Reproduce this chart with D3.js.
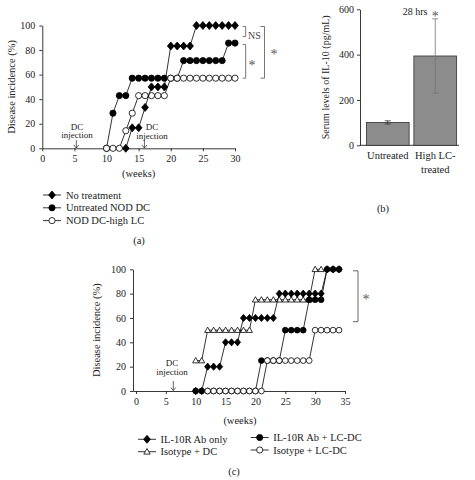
<!DOCTYPE html>
<html><head><meta charset="utf-8">
<script src="https://cdn.jsdelivr.net/npm/d3@7"></script>
<style>
body{margin:0;background:#fff}
svg{display:block}
text{font-family:'Liberation Serif','Times New Roman',serif;fill:#222}
</style></head>
<body><svg id="c" width="475" height="480"></svg>
<script>
// ---------- DATA ----------
// Panel (a): disease incidence (%) vs weeks
const aXTicks = [0,5,10,15,20,25,30];
const aYTicks = [0,20,40,60,80,100];
const aNoTreatWeeks = [13,14,15,16,17,18,19,20,21,22,23,24,25,26,27,28,29,30];
const aNoTreatVals  = [0,16.7,16.7,33.3,50,50,50,83.3,83.3,83.3,83.3,100,100,100,100,100,100,100];
const aUntreatedWeeks = [10,11,12,13,14,15,16,17,18,19,20,21,22,23,24,25,26,27,28,29,30];
const aUntreatedVals  = [0,28.6,42.9,42.9,57.1,57.1,57.1,57.1,57.1,57.1,57.1,57.1,71.4,71.4,71.4,71.4,71.4,71.4,71.4,85.7,85.7];
const aHighLCWeeks = [10,11,12,13,14,15,16,17,18,19,20,21,22,23,24,25,26,27,28,29,30];
const aHighLCVals  = [0,0,0,14.3,28.6,42.9,42.9,42.9,42.9,42.9,57.1,57.1,57.1,57.1,57.1,57.1,57.1,57.1,57.1,57.1,57.1];
const aLegend = ["No treatment","Untreated NOD DC","NOD DC-high LC"];
const aInjectionWeeks = [5.3, 15.9];

// Panel (b): serum IL-10
const bCategories = ["Untreated","High LC-treated"];
const bCategoryLines = [["Untreated"],["High LC-","treated"]];
const bValues = [101, 394];
const bErrors = [7, 164];
const bYTicks = [0,200,400,600];

// Panel (c)
const cXTicks = [0,5,10,15,20,25,30,35];
const cYTicks = [0,20,40,60,80,100];
const cAbOnlyWeeks = [10,11,12,13,14,15,16,17,18,19,20,21,22,23,24,25,26,27,28,29,30,31,32,33,34];
const cAbOnlyVals  = [0,0,20,20,20,40,40,40,60,60,60,60,60,60,80,80,80,80,80,80,80,80,100,100,100];
const cIsoDCWeeks = [10,11,12,13,14,15,16,17,18,19,20,21,22,23,24,25,26,27,28,29,30,31];
const cIsoDCVals  = [25,25,50,50,50,50,50,50,50,50,75,75,75,75,75,75,75,75,75,75,100,100];
const cAbLCWeeks = [10,11,12,13,14,15,16,17,18,19,20,21,22,23,24,25,26,27,28,29,30,31,32,33,34];
const cAbLCVals  = [0,0,0,0,0,0,0,0,0,0,0,25,25,25,25,50,50,50,50,75,75,75,100,100,100];
const cIsoLCWeeks = [12,13,14,15,16,17,18,19,20,21,22,23,24,25,26,27,28,29,30,31,32,33,34];
const cIsoLCVals  = [0,0,0,0,0,0,0,0,0,0,25,25,25,25,25,25,25,25,50,50,50,50,50];
const cLegend = ["IL-10R Ab only","Isotype + DC","IL-10R Ab + LC-DC","Isotype + LC-DC"];
const cInjectionWeek = 6.25;

// ---------- DRAW ----------
const svg = d3.select("#c");
const INK = "#222";
const zip = (w,v) => w.map((d,i)=>({w:d,v:v[i]}));

function shapePath(type, s){
  if(type==="diamond") return `M0,${-4*s}L${3.4*s},0L0,${4*s}L${-3.4*s},0Z`;
  if(type==="triangle") return `M0,${-3.2*s}L${3.2*s},${2.4*s}L${-3.2*s},${2.4*s}Z`;
  return null;
}
function drawMarker(g, type, x, y, s){
  if(type==="diamond" || type==="triangle"){
    g.append("path").attr("d", shapePath(type,s)).attr("transform",`translate(${x},${y})`)
      .attr("fill", type==="diamond" ? "#000" : "#fff").attr("stroke","#000").attr("stroke-width",0.8);
  } else {
    g.append("circle").attr("cx",x).attr("cy",y).attr("r",3.1*s)
      .attr("fill", type==="filled" ? "#000" : "#fff").attr("stroke","#000").attr("stroke-width",0.8);
  }
}
function drawSeries(g, data, x, y, type, s){
  const line = d3.line().x(d=>x(d.w)).y(d=>y(d.v));
  g.append("path").datum(data).attr("d",line).attr("fill","none").attr("stroke","#000").attr("stroke-width",0.8);
  data.forEach(d=>drawMarker(g,type,x(d.w),y(d.v),s));
}
function styleAxis(g){
  g.selectAll(".domain,.tick line").attr("stroke",INK).attr("stroke-width",0.9);
  g.selectAll(".tick text").style("font-family","'Liberation Serif','Times New Roman',serif").style("font-size","10px").attr("fill",INK);
}
function injection(g, x, yTextTop, arrowTop, arrowBottom, textX){
  g.append("text").attr("x",textX).attr("y",yTextTop).attr("text-anchor","middle").style("font-size","9px").text("DC");
  g.append("text").attr("x",textX).attr("y",yTextTop+8.5).attr("text-anchor","middle").style("font-size","9px").text("injection");
  g.append("line").attr("x1",x).attr("x2",x).attr("y1",arrowTop).attr("y2",arrowBottom).attr("stroke",INK).attr("stroke-width",0.7);
  g.append("path").attr("d",`M${x-2.5},${arrowBottom-3}L${x},${arrowBottom}L${x+2.5},${arrowBottom-3}`).attr("fill","none").attr("stroke",INK).attr("stroke-width",0.7);
}
function bracket(g, x, y1, y2, w, color){
  g.append("path").attr("d",`M${x-w},${y1}L${x},${y1}L${x},${y2}L${x-w},${y2}`).attr("fill","none").attr("stroke",color).attr("stroke-width",0.9);
}
function star(g, x, y, size){
  g.append("text").attr("x",x).attr("y",y).attr("text-anchor","middle").style("font-size",size+"px").style("fill","#555").text("*");
}

// ----- Panel (a) -----
const gA = svg.append("g");
const xA = d3.scaleLinear().domain([0,30]).range([42.3,235]);
const yA = d3.scaleLinear().domain([0,100]).range([148.3,25.5]);
gA.append("g").attr("transform",`translate(0,${yA(0)})`)
  .call(d3.axisBottom(xA).tickValues(aXTicks).tickSize(3).tickSizeOuter(0).tickPadding(4)).call(styleAxis);
gA.append("g").attr("transform",`translate(${xA(0)},0)`)
  .call(d3.axisLeft(yA).tickValues(aYTicks).tickSize(3).tickSizeOuter(0).tickPadding(4)).call(styleAxis);
drawSeries(gA, zip(aUntreatedWeeks,aUntreatedVals), xA, yA, "filled", 1);
drawSeries(gA, zip(aHighLCWeeks,aHighLCVals), xA, yA, "open", 1);
drawSeries(gA, zip(aNoTreatWeeks,aNoTreatVals), xA, yA, "diamond", 1);
gA.append("text").attr("transform",`translate(15,${(yA(0)+yA(100))/2}) rotate(-90)`).attr("text-anchor","middle").style("font-size","10.5px").text("Disease incidence (%)");
gA.append("text").attr("x",(xA(0)+xA(30))/2).attr("y",176.5).attr("text-anchor","middle").style("font-size","10.5px").text("(weeks)");
injection(gA, xA(aInjectionWeeks[0]), 129.5, 140, 148, 77);
injection(gA, xA(aInjectionWeeks[1]), 130, 139.5, 148, 152);
// significance brackets
bracket(gA, 245.7, yA(100)+1, yA(91), 3, "#666");
gA.append("text").attr("x",248).attr("y",38.5).style("font-size","10px").style("fill","#444").text("NS");
bracket(gA, 245.7, yA(84.5), yA(57.1), 3, "#666");
star(gA, 252, 70, 14);
bracket(gA, 264.5, yA(100)+1, yA(57.1), 4, "#666");
star(gA, 274, 59, 14);
// legend
const aTypes = ["diamond","filled","open"];
aLegend.forEach((t,i)=>{
  const y = 195 + i*12.8;
  gA.append("line").attr("x1",43).attr("x2",61).attr("y1",y).attr("y2",y).attr("stroke","#000").attr("stroke-width",0.8);
  drawMarker(gA, aTypes[i], 52, y, 1);
  gA.append("text").attr("x",66).attr("y",y+3.6).style("font-size","10.5px").text(t);
});
gA.append("text").attr("x",139).attr("y",244).attr("text-anchor","middle").style("font-size","10.5px").text("(a)");

// ----- Panel (b) -----
const gB = svg.append("g");
const yB = d3.scaleLinear().domain([0,600]).range([145.3,9.3]);
const xB = d3.scaleBand().domain(bCategories).range([364,459]).paddingInner(0.1).paddingOuter(0.05);
gB.append("g").attr("transform",`translate(360,0)`)
  .call(d3.axisLeft(yB).tickValues(bYTicks).tickSize(3).tickSizeOuter(0).tickPadding(3)).call(styleAxis);
gB.append("line").attr("x1",360).attr("x2",459).attr("y1",yB(0)).attr("y2",yB(0)).attr("stroke",INK).attr("stroke-width",0.9);
bCategories.forEach((c,i)=>{
  gB.append("rect").attr("x",xB(c)).attr("y",yB(bValues[i])).attr("width",xB.bandwidth()).attr("height",yB(0)-yB(bValues[i]))
    .attr("fill","#8c8c8c").attr("stroke","#333").attr("stroke-width",0.8);
  const cx = xB(c)+xB.bandwidth()/2;
  const col = i===0 ? "#333" : "#777";
  gB.append("line").attr("x1",cx).attr("x2",cx).attr("y1",yB(bValues[i]-bErrors[i])).attr("y2",yB(bValues[i]+bErrors[i])).attr("stroke",col).attr("stroke-width",0.8);
  [bValues[i]-bErrors[i], bValues[i]+bErrors[i]].forEach(v=>{
    gB.append("line").attr("x1",cx-3).attr("x2",cx+3).attr("y1",yB(v)).attr("y2",yB(v)).attr("stroke",col).attr("stroke-width",0.8);
  });
  bCategoryLines[i].forEach((ln,j)=>{
    gB.append("text").attr("x",cx).attr("y",159+j*14).attr("text-anchor","middle").style("font-size","10.5px").text(ln);
  });
});
gB.append("text").attr("transform",`translate(329,${(yB(0)+yB(600))/2}) rotate(-90)`).attr("text-anchor","middle").style("font-size","10px").text("Serum levels of IL-10 (pg/mL)");
gB.append("text").attr("x",415).attr("y",14.5).attr("text-anchor","middle").style("font-size","10px").text("28 hrs");
star(gB, xB(bCategories[1])+xB.bandwidth()/2, 21, 14);
gB.append("text").attr("x",383).attr("y",212).attr("text-anchor","middle").style("font-size","10.5px").text("(b)");

// ----- Panel (c) -----
const gC = svg.append("g");
const xC = d3.scaleLinear().domain([-0.5,35]).range([133,345]);
const yC = d3.scaleLinear().domain([0,100]).range([391,269.3]);
gC.append("g").attr("transform",`translate(0,${yC(0)})`)
  .call(d3.axisBottom(xC).tickValues(cXTicks).tickSize(3).tickSizeOuter(0).tickPadding(4)).call(styleAxis);
gC.append("g").attr("transform",`translate(${xC(-0.5)},0)`)
  .call(d3.axisLeft(yC).tickValues(cYTicks).tickSize(3).tickSizeOuter(0).tickPadding(4)).call(styleAxis);
drawSeries(gC, zip(cIsoDCWeeks,cIsoDCVals), xC, yC, "triangle", 0.95);
drawSeries(gC, zip(cAbOnlyWeeks,cAbOnlyVals), xC, yC, "diamond", 0.9);
drawSeries(gC, zip(cAbLCWeeks,cAbLCVals), xC, yC, "filled", 0.93);
drawSeries(gC, zip(cIsoLCWeeks,cIsoLCVals), xC, yC, "open", 0.93);
gC.append("text").attr("transform",`translate(100,${(yC(0)+yC(100))/2}) rotate(-90)`).attr("text-anchor","middle").style("font-size","10.5px").text("Disease incidence (%)");
gC.append("text").attr("x",240).attr("y",424).attr("text-anchor","middle").style("font-size","10.5px").text("(weeks)");
injection(gC, xC(cInjectionWeek), 366, 381, 390.5, 172);
bracket(gC, 358, yC(100)+1.5, yC(57), 5, "#555");
star(gC, 366, 304, 14);
const cTypes = ["diamond","triangle","filled","open"];
const cPos = [[147,439.3],[147,451.7],[259.7,437.5],[259.7,450]];
cLegend.forEach((t,i)=>{
  const [mx,my] = cPos[i];
  gC.append("line").attr("x1",mx-9).attr("x2",mx+9).attr("y1",my).attr("y2",my).attr("stroke","#000").attr("stroke-width",0.8);
  drawMarker(gC, cTypes[i], mx, my, 1);
  gC.append("text").attr("x",mx+13.5).attr("y",my+3.6).style("font-size","10.5px").text(t);
});
gC.append("text").attr("x",234).attr("y",475).attr("text-anchor","middle").style("font-size","10.5px").text("(c)");
</script></body></html>
